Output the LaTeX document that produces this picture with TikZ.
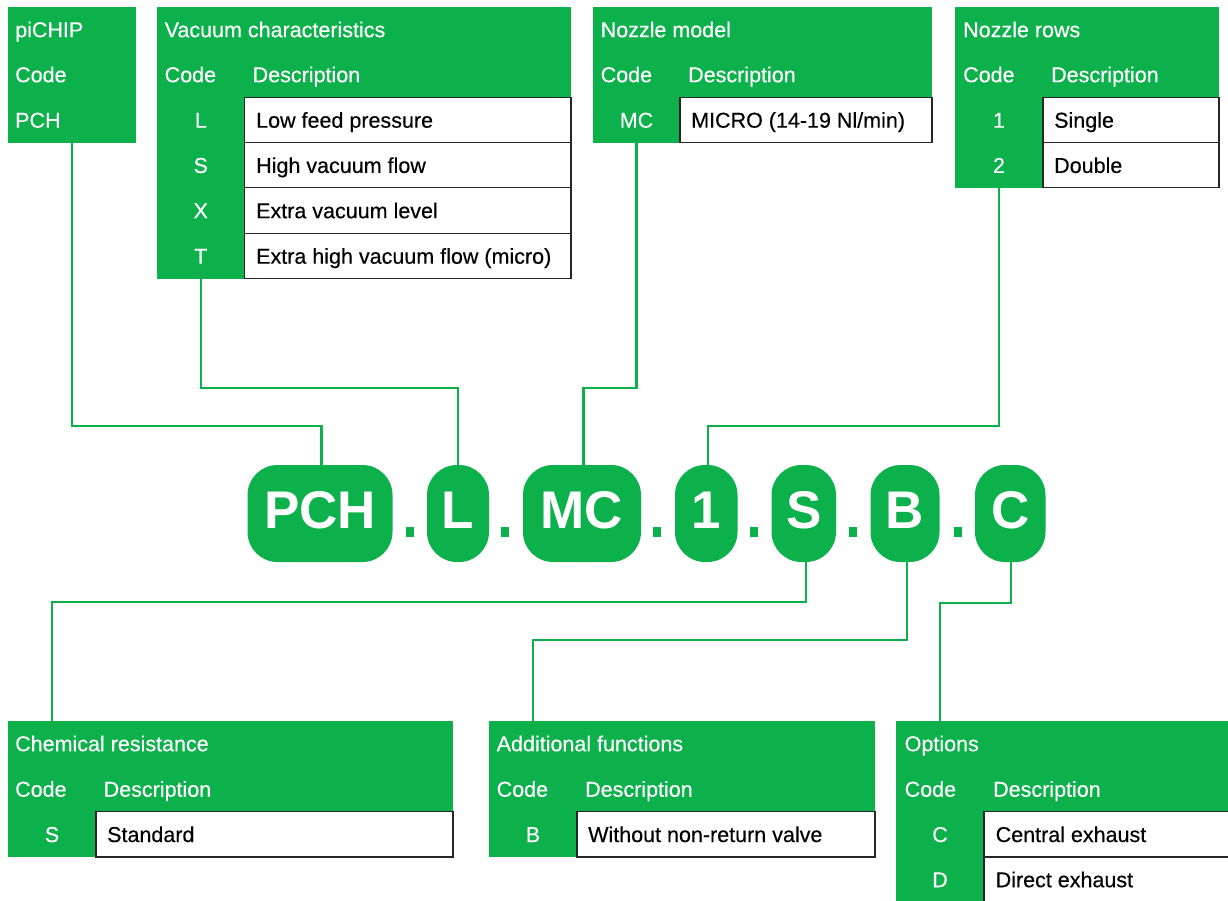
\documentclass[tikz,border=0pt]{standalone}
\usepackage{fontspec}
\newfontfamily\lsans[FakeBold=0.35]{Liberation Sans}
\newfontfamily\lsansb{Liberation Sans Bold}
\definecolor{pgreen}{RGB}{13,177,75}
\newcommand\tabfont{\lsans\fontsize{21.5}{24}\selectfont}
\newcommand\pillfont{\lsansb\fontsize{53}{60}\selectfont}
\newcommand\cellnode[6]{%
  \pgfmathsetmacro\cw{#5-#3}\pgfmathsetmacro\ch{#6-#4}%
  \node[#1, minimum width=\cw pt, minimum height=\ch pt, anchor=north west] (#2) at (#3,#4) {};}
\tikzset{
  grn/.style={fill=pgreen, draw=none, inner sep=0pt, outer sep=0pt},
  wcell/.style={fill=white, draw=black!85, line width=1.2pt, inner sep=0pt, outer sep=0pt},
  wtxt/.style={text=white, font=\tabfont, anchor=west, inner sep=0pt, text height=15.4pt, text depth=0pt},
  btxt/.style={text=black, font=\tabfont, anchor=west, inner sep=0pt, text height=15.4pt, text depth=0pt},
  ctxt/.style={text=white, font=\tabfont, anchor=center, inner sep=0pt, text height=15.4pt, text depth=0pt},
  pill/.style={fill=pgreen, rounded corners=30pt, text=white, font=\pillfont, inner sep=0pt,
    text height=38pt, text depth=8pt, minimum height=97pt},
  dotbox/.style={fill=pgreen, draw=none, inner sep=0pt, minimum width=8.5pt, minimum height=9.5pt},
  conn/.style={draw=pgreen, line width=2.2pt}
}
\begin{document}
\begin{tikzpicture}[x=1pt,y=-1pt]
\clip (0,0) rectangle (1228,900);
\fill[white] (0,0) rectangle (1228,900);

% ---------- piCHIP ----------
\cellnode{grn}{pichip}{8}{7}{136}{143}
\node[wtxt] (pcT) at (15,29.5) {piCHIP};
\node[wtxt] (pcC) at (15,74.5) {Code};
\node[wtxt] (pcV) at (15,120) {PCH};

% ---------- Vacuum characteristics ----------
\cellnode{grn}{vacband}{157}{7}{571}{97.3}
\cellnode{grn}{vaccode}{157}{7}{244.5}{278.7}
\cellnode{wcell}{vacw1}{244.5}{97.3}{571}{142.7}
\cellnode{wcell}{vacw2}{244.5}{142.7}{571}{187.7}
\cellnode{wcell}{vacw3}{244.5}{187.7}{571}{233.3}
\cellnode{wcell}{vacw4}{244.5}{233.3}{571}{278.7}
\node[wtxt] (vacT) at (164.5,29.5) {Vacuum characteristics};
\node[wtxt] (vacC) at (164.5,74.5) {Code};
\node[wtxt] (vacD) at (252.5,74.5) {Description};
\node[ctxt] (vacL) at (200.75,120) {L};
\node[ctxt] (vacS) at (200.75,165.2) {S};
\node[ctxt] (vacX) at (200.75,210.5) {X};
\node[ctxt] (vacTT) at (200.75,256) {T};
\node[btxt] (vacd1) at (256,120) {Low feed pressure};
\node[btxt] (vacd2) at (256,165.2) {High vacuum flow};
\node[btxt] (vacd3) at (256,210.5) {Extra vacuum level};
\node[btxt] (vacd4) at (256,256) {Extra high vacuum flow (micro)};

% ---------- Nozzle model ----------
\cellnode{grn}{nmband}{593}{7}{932}{97.3}
\cellnode{grn}{nmcode}{593}{7}{680}{142.7}
\cellnode{wcell}{nmw1}{680}{97.3}{932}{142.7}
\node[wtxt] (nmT) at (600.5,29.5) {Nozzle model};
\node[wtxt] (nmC) at (600.5,74.5) {Code};
\node[wtxt] (nmD) at (688,74.5) {Description};
\node[ctxt] (nmMC) at (636.5,120) {MC};
\node[btxt] (nmd1) at (691,120) {MICRO (14-19 Nl/min)};

% ---------- Nozzle rows ----------
\cellnode{grn}{nrband}{955}{7}{1219}{97.3}
\cellnode{grn}{nrcode}{955}{7}{1043}{187.7}
\cellnode{wcell}{nrw1}{1043}{97.3}{1219}{142.7}
\cellnode{wcell}{nrw2}{1043}{142.7}{1219}{187.7}
\node[wtxt] (nrT) at (963,29.5) {Nozzle rows};
\node[wtxt] (nrC) at (963,74.5) {Code};
\node[wtxt] (nrD) at (1051,74.5) {Description};
\node[ctxt] (nr1) at (999,120) {1};
\node[ctxt] (nr2) at (999,165.2) {2};
\node[btxt] (nrd1) at (1054,120) {Single};
\node[btxt] (nrd2) at (1054,165.2) {Double};

% ---------- Chemical resistance ----------
\cellnode{grn}{chband}{8}{721}{453}{811.7}
\cellnode{grn}{chcode}{8}{721}{96}{857}
\cellnode{wcell}{chw1}{96}{811.7}{453}{857}
\node[wtxt] (chT) at (15,743.5) {Chemical resistance};
\node[wtxt] (chC) at (15,789) {Code};
\node[wtxt] (chD) at (103.5,789) {Description};
\node[ctxt] (chS) at (52,834.3) {S};
\node[btxt] (chd1) at (107,834.3) {Standard};

% ---------- Additional functions ----------
\cellnode{grn}{adband}{489}{721}{875}{811.7}
\cellnode{grn}{adcode}{489}{721}{577}{857}
\cellnode{wcell}{adw1}{577}{811.7}{875}{857}
\node[wtxt] (adT) at (496.5,743.5) {Additional functions};
\node[wtxt] (adC) at (496.5,789) {Code};
\node[wtxt] (adD) at (585,789) {Description};
\node[ctxt] (adB) at (533,834.3) {B};
\node[btxt] (add1) at (588,834.3) {Without non-return valve};

% ---------- Options ----------
\cellnode{grn}{opband}{896}{721}{1240}{811.7}
\cellnode{grn}{opcode}{896}{721}{984}{905}
\cellnode{wcell}{opw1}{984}{811.7}{1240}{857}
\cellnode{wcell}{opw2}{984}{857}{1240}{910}
\node[wtxt] (opT) at (904.5,743.5) {Options};
\node[wtxt] (opC) at (904.5,789) {Code};
\node[wtxt] (opD) at (993,789) {Description};
\node[ctxt] (opCC) at (940,834.3) {C};
\node[ctxt] (opDD) at (940,879.5) {D};
\node[btxt] (opd1) at (995.5,834.3) {Central exhaust};
\node[btxt] (opd2) at (995.5,879.5) {Direct exhaust};

% ---------- Code pills ----------
\node[pill, minimum width=145pt] (pPCH) at (320,513.5) {PCH};
\node[pill, minimum width=62pt] (pL) at (458,513.5) {L};
\node[pill, minimum width=118pt] (pMC) at (582,513.5) {MC};
\node[pill, minimum width=62.5pt] (pOne) at (706.25,513.5) {1};
\node[pill, minimum width=64.5pt] (pS) at (803.75,513.5) {S};
\node[pill, minimum width=69pt] (pB) at (905,513.5) {B};
\node[pill, minimum width=70.5pt] (pC) at (1010.25,513.5) {C};
\node[dotbox] (d1) at (410,532.2) {};
\node[dotbox] (d2) at (505,532.2) {};
\node[dotbox] (d3) at (657,532.2) {};
\node[dotbox] (d4) at (754,532.2) {};
\node[dotbox] (d5) at (853,532.2) {};
\node[dotbox] (d6) at (958,532.2) {};

% ---------- Connectors ----------
\draw[conn] (pichip.south) -- (pichip.south |- 0,425.7) -| ([xshift=1.5pt]pPCH.north);
\draw[conn] (vaccode.south) -- (vaccode.south |- 0,388) -| (pL.north);
\draw[conn] (nmcode.south) -- (nmcode.south |- 0,388) -| ([xshift=1.5pt]pMC.north);
\draw[conn] (nrcode.south) -- (nrcode.south |- 0,425.7) -| ([xshift=1.5pt]pOne.north);
\draw[conn] ([xshift=2.25pt]pS.south) -- ([xshift=2.25pt]pS.south |- 0,602) -| (chcode.north);
\draw[conn] ([xshift=2pt]pB.south) -- ([xshift=2pt]pB.south |- 0,640) -| (adcode.north);
\draw[conn] ([xshift=1pt]pC.south) -- ([xshift=1pt]pC.south |- 0,603) -| (opcode.north);
\end{tikzpicture}
\end{document}
